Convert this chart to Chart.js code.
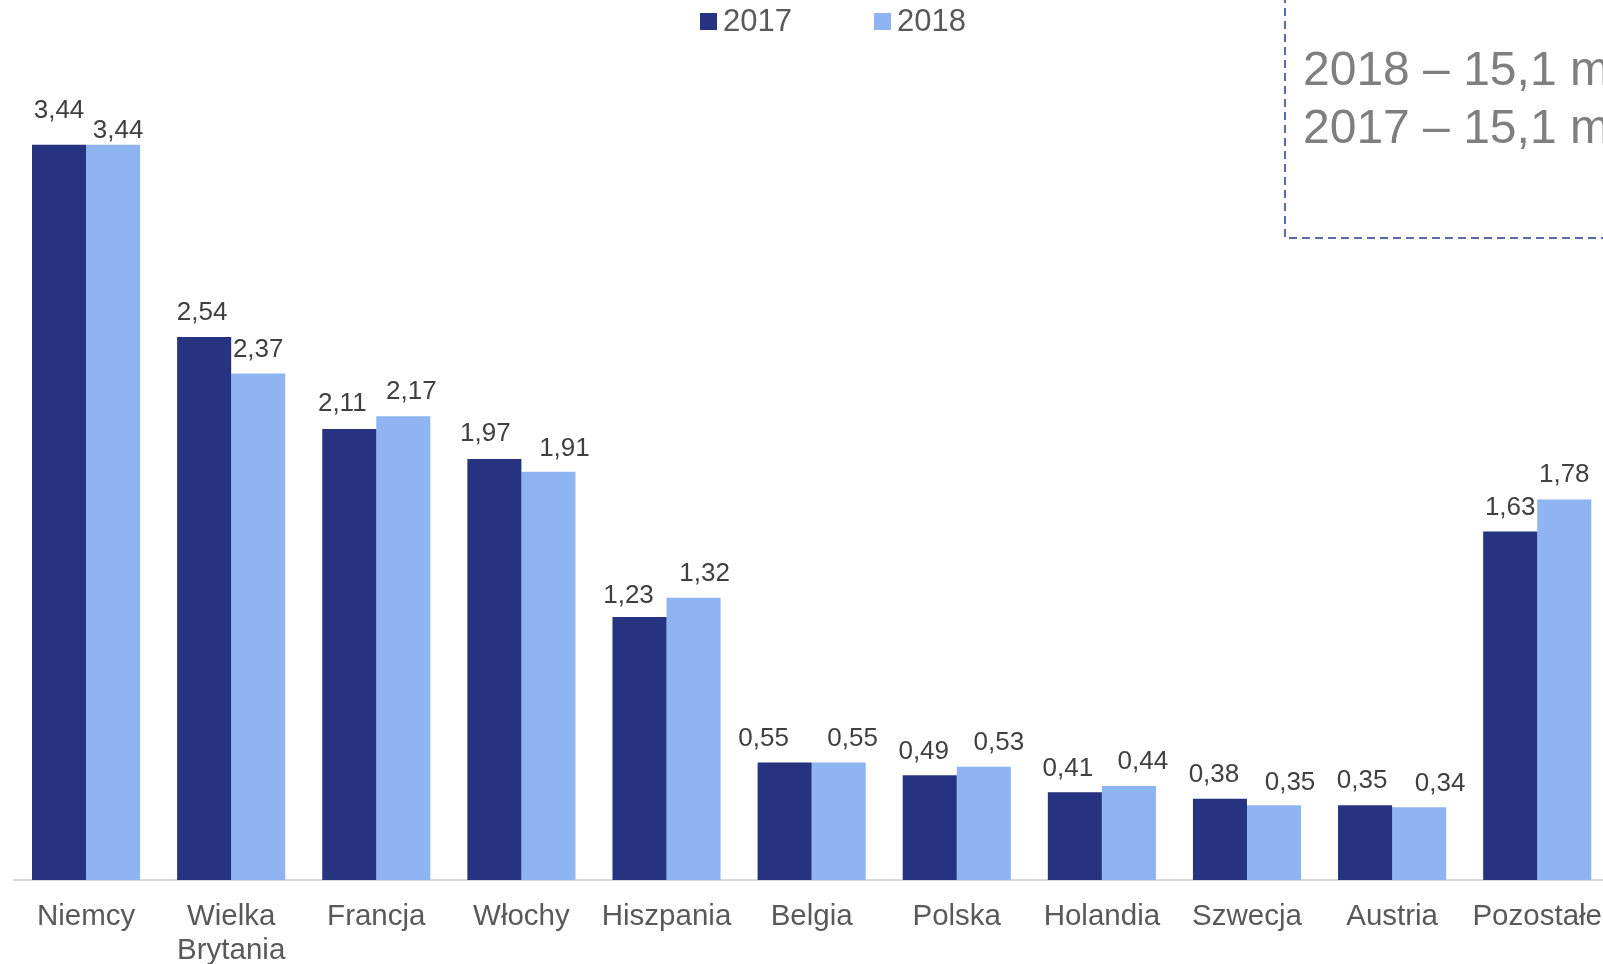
<!DOCTYPE html>
<html>
<head>
<meta charset="utf-8">
<script src="https://cdn.jsdelivr.net/npm/chart.js@4"></script>
<style>
  html, body { margin: 0; padding: 0; background: #fff; overflow: hidden; }
  #wrap { position: relative; width: 1614px; height: 964px; }
</style>
</head>
<body>
<div id="wrap"><canvas id="c"></canvas></div>
<script>
// ---- data ----
const categories = ['Niemcy', ['Wielka', 'Brytania'], 'Francja', 'Włochy', 'Hiszpania', 'Belgia', 'Polska', 'Holandia', 'Szwecja', 'Austria', 'Pozostałe'];
const seriesNames = ['2017', '2018'];
const values2017 = [3.44, 2.54, 2.11, 1.97, 1.23, 0.55, 0.49, 0.41, 0.38, 0.35, 1.63];
const values2018 = [3.44, 2.37, 2.17, 1.91, 1.32, 0.55, 0.53, 0.44, 0.35, 0.34, 1.78];
const noteLines = ['2018 – 15,1 mln', '2017 – 15,1 mln'];

// label nudges (px), as placed in the original
const labelDx = [
  [0, -2, -7, -9, -11, -21, -6, -7, -6, -3, 0],
  [5, 0, 8, 16, 11, 14, 15, 14, 16, 21, 0]
];
const labelDy = [
  [36, 26, 27, 27, 23, 26, 26, 26, 26, 26, 26],
  [16, 26, 26, 25, 26, 26, 26, 26, 24, 26, 27]
];

const COL_DARK = '#253380';
const COL_LIGHT = '#8FB4F2';
const FONT = "'Liberation Sans', Arial, sans-serif";

const labelsPlugin = {
  id: 'valueLabels',
  afterDatasetsDraw(chart) {
    const ctx = chart.ctx;
    ctx.save();
    ctx.font = '26px ' + FONT;
    ctx.fillStyle = '#404040';
    ctx.textAlign = 'center';
    ctx.textBaseline = 'alphabetic';
    chart.data.datasets.forEach((ds, di) => {
      const meta = chart.getDatasetMeta(di);
      meta.data.forEach((el, i) => {
        const txt = ds.data[i].toFixed(2).replace('.', ',');
        const cx = el.x + labelDx[di][i];
        const cy = el.y - labelDy[di][i];
        ctx.fillText(txt, cx, cy + 0.358 * 26);
      });
    });
    ctx.restore();
  }
};

const decorPlugin = {
  id: 'decor',
  afterDraw(chart) {
    const ctx = chart.ctx;
    ctx.save();
    // legend
    ctx.font = '31px ' + FONT;
    ctx.textBaseline = 'alphabetic';
    ctx.textAlign = 'left';
    const legX = [700, 874];
    chart.data.datasets.forEach((ds, di) => {
      ctx.fillStyle = ds.backgroundColor;
      ctx.fillRect(legX[di], 13, 17, 17);
      ctx.fillStyle = '#595959';
      ctx.fillText(ds.label, legX[di] + 23, 31);
    });
    // dashed note box
    ctx.strokeStyle = '#5D6BAA';
    ctx.lineWidth = 2;
    ctx.setLineDash([8, 5]);
    ctx.beginPath();
    ctx.moveTo(1285, -5);
    ctx.lineTo(1285, 238);
    ctx.lineTo(1640, 238);
    ctx.stroke();
    ctx.setLineDash([]);
    ctx.font = '48px ' + FONT;
    ctx.fillStyle = '#7F7F7F';
    ctx.fillText(noteLines[0], 1303, 85);
    ctx.fillText(noteLines[1], 1303, 143);
    ctx.restore();
  }
};

new Chart(document.getElementById('c'), {
  type: 'bar',
  data: {
    labels: categories,
    datasets: [
      { label: seriesNames[0], data: values2017, backgroundColor: COL_DARK, borderWidth: 0 },
      { label: seriesNames[1], data: values2018, backgroundColor: COL_LIGHT, borderWidth: 0 }
    ]
  },
  options: {
    responsive: true,
    maintainAspectRatio: false,
    animation: false,
    layout: { padding: { left: 13.5, right: 0, top: 25, bottom: 0 } },
    plugins: { legend: { display: false }, tooltip: { enabled: false } },
    datasets: { bar: { categoryPercentage: 0.745, barPercentage: 1.0 } },
    scales: {
      x: {
        grid: { display: false },
        border: { display: true, color: '#D9D9D9', width: 2 },
        afterFit(scale) { scale.height = 84; },
        ticks: {
          color: '#595959',
          font: { family: FONT, size: 29.5, lineHeight: 1.14 },
          padding: 12,
          maxRotation: 0,
          autoSkip: false
        }
      },
      y: {
        display: false,
        min: 0,
        max: 4,
        grid: { display: false }
      }
    }
  },
  plugins: [labelsPlugin, decorPlugin]
});
</script>
</body>
</html>
